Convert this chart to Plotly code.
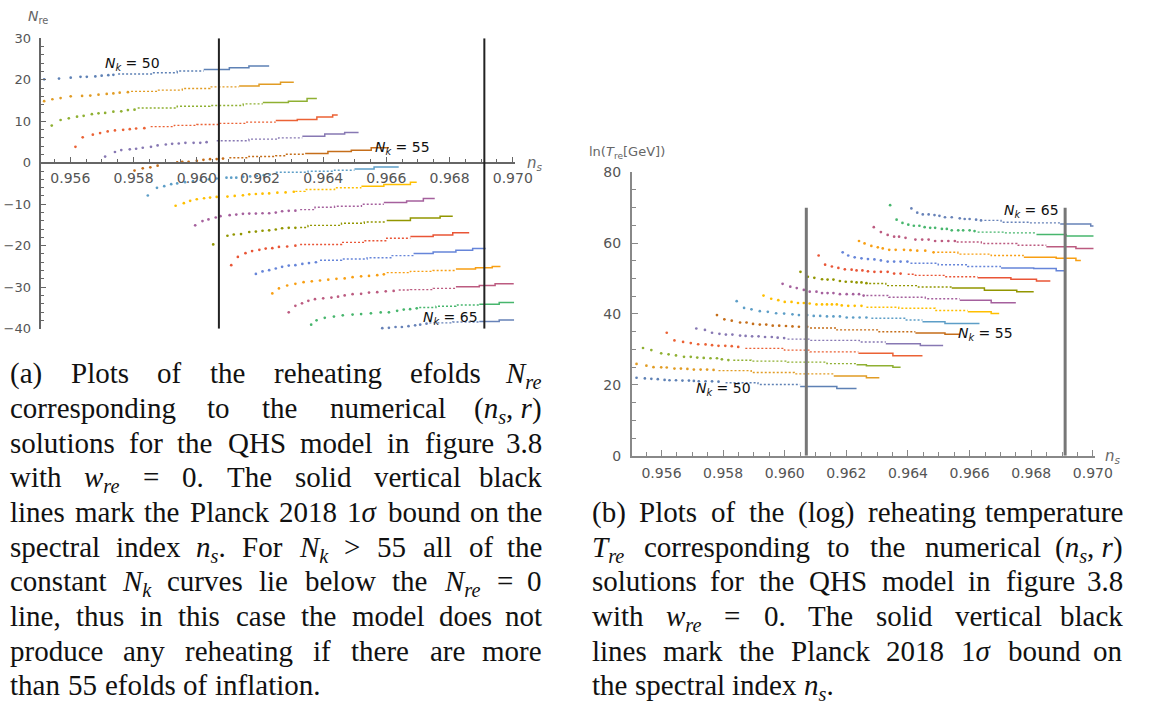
import plotly.graph_objects as go

W, H = 1154, 713

# ---------------------------------------------------------------- data
NK = [50, 51, 52, 53, 54, 55, 56, 57, 58, 59, 60, 61, 62, 63, 64, 65]
PLANCK_NS = [0.9607, 0.9691]

# (a) reheating efolds N_re: sparse solutions (dots) and dense solutions (plateaus)
A_DOT_NS = [
    [0.95517, 0.95564, 0.95601, 0.95632, 0.95652, 0.95679, 0.95699, 0.95720, 0.95736],
    [0.95517, 0.95543, 0.95569, 0.95601, 0.95637, 0.95663, 0.95689, 0.95715, 0.95736, 0.95756, 0.95782],
    [0.95541, 0.95569, 0.95595, 0.95621, 0.95642, 0.95668, 0.95689, 0.95710, 0.95736, 0.95761, 0.95782, 0.95803],
    [0.95616, 0.95639, 0.95671, 0.95694, 0.95718, 0.95741, 0.95767, 0.95788, 0.95808, 0.95834],
    [0.95710, 0.95741, 0.95761, 0.95788, 0.95808, 0.95829, 0.95855, 0.95876, 0.95902, 0.95922, 0.95943, 0.95964, 0.95990, 0.96011, 0.96031],
    [0.95803, 0.95829, 0.95853, 0.95876, 0.95938, 0.95954, 0.95974, 0.96000, 0.96021, 0.96042, 0.96063, 0.96083],
    [0.95845, 0.95874, 0.95897, 0.95919, 0.95938, 0.95963, 0.95988, 0.96013, 0.96038, 0.96063, 0.96094, 0.96109, 0.96125, 0.96147, 0.96169, 0.96190, 0.96212, 0.96231],
    [0.95933, 0.95959, 0.95979, 0.96000, 0.96023, 0.96042, 0.96063, 0.96097, 0.96120, 0.96146, 0.96166, 0.96187, 0.96208, 0.96229, 0.96255, 0.96281, 0.96307],
    [0.95995, 0.96018, 0.96037, 0.96060, 0.96075, 0.96104, 0.96125, 0.96146, 0.96166, 0.96187, 0.96208, 0.96229, 0.96250, 0.96270, 0.96291, 0.96312],
    [0.96052, 0.96097, 0.96117, 0.96140, 0.96166, 0.96187, 0.96208, 0.96229, 0.96250, 0.96270, 0.96291, 0.96312],
    [0.96109, 0.96130, 0.96154, 0.96175, 0.96198, 0.96218, 0.96239, 0.96260, 0.96286, 0.96312],
    [0.96187, 0.96208, 0.96229, 0.96250, 0.96270, 0.96291, 0.96312, 0.96334, 0.96355, 0.96377],
    [0.96239, 0.96260, 0.96286, 0.96312, 0.96338, 0.96364, 0.96390, 0.96416, 0.96442, 0.96468, 0.96493, 0.96520, 0.96545, 0.96571, 0.96592],
    [0.96291, 0.96312, 0.96333, 0.96353, 0.96374, 0.96400, 0.96426, 0.96447, 0.96468, 0.96493, 0.96520, 0.96545, 0.96571, 0.96598, 0.96623],
    [0.96362, 0.96379, 0.96405, 0.96434, 0.96462, 0.96493, 0.96520, 0.96551, 0.96582, 0.96608, 0.96634, 0.96655, 0.96675, 0.96696],
    [0.96551, 0.96566, 0.96587, 0.96608, 0.96629, 0.96649, 0.96670, 0.96691, 0.96707, 0.96727],
]
A_DOT_NRE = [
    [20.1, 20.3, 20.5, 20.7, 20.7, 20.8, 21.0, 21.1, 21.2],
    [14.85, 15.3, 15.6, 16.0, 16.1, 16.2, 16.4, 16.6, 16.7, 16.9, 17.0],
    [8.96, 10.3, 10.7, 11.1, 11.3, 11.7, 11.9, 12.0, 12.3, 12.4, 12.7, 12.8],
    [3.84, 6.13, 6.76, 7.14, 7.54, 7.78, 7.94, 8.08, 8.25, 8.32],
    [1.49, 2.59, 3.06, 3.22, 3.37, 3.61, 3.84, 4.17, 4.4, 4.55, 4.64, 4.79, 4.79, 4.79, 4.95],
    [-1.89, -1.34, -1.1, -0.7, 0.08, 0.24, 0.24, 0.47, 0.7, 0.86, 0.87, 1.0],
    [-7.9, -6.05, -5.66, -5.18, -5.0, -4.7, -4.4, -4.2, -4.0, -3.8, -3.6, -3.6, -3.6, -3.4, -3.3, -3.2, -3.0, -2.9],
    [-10.37, -9.74, -9.19, -8.8, -8.56, -8.4, -8.25, -8.17, -8.0, -7.86, -7.62, -7.54, -7.46, -7.39, -7.23, -7.15, -7.0],
    [-15.08, -14.07, -13.67, -13.2, -12.89, -12.65, -12.49, -12.33, -12.25, -12.25, -12.18, -12.18, -12.02, -11.7, -11.6, -11.55],
    [-19.7, -17.6, -17.3, -17.2, -16.7, -16.6, -16.4, -16.3, -16.1, -15.8, -15.7, -15.7],
    [-24.7, -22.7, -21.8, -21.3, -21.0, -20.7, -20.6, -20.3, -20.2, -20.0],
    [-26.8, -26.2, -25.9, -25.5, -25.1, -24.8, -24.7, -24.4, -24.2, -24.0],
    [-31.5, -30.3, -29.6, -29.2, -28.8, -28.6, -28.4, -28.2, -28.0, -27.9, -27.6, -27.4, -27.3, -27.1, -26.9],
    [-36.06, -34.5, -33.9, -33.3, -32.9, -32.7, -32.5, -32.3, -32.0, -31.7, -31.6, -31.3, -31.2, -31.0, -30.9],
    [-39.05, -38.0, -37.4, -37.1, -36.8, -36.6, -36.5, -36.3, -36.1, -36.06, -35.7, -35.4, -35.3, -35.1],
    [-40.3, -40.3, -39.9, -39.8, -39.6, -39.6, -39.4, -39.2, -39.05, -38.8],
]
# plateau edges (n+1 values) and plateau levels (n values)
A_STEP_NS = [
    [0.95751, 0.95860, 0.95938, 0.96022, 0.96103, 0.96165, 0.96229],
    [0.95792, 0.95876, 0.95954, 0.96041, 0.96134, 0.96197, 0.96265, 0.96307],
    [0.95813, 0.95938, 0.96041, 0.96147, 0.96209, 0.96290, 0.96349, 0.96380],
    [0.95854, 0.95929, 0.96000, 0.96072, 0.96156, 0.96250, 0.96318, 0.96380, 0.96430, 0.96446],
    [0.96063, 0.96165, 0.96259, 0.96334, 0.96405, 0.96468, 0.96512],
    [0.96103, 0.96165, 0.96250, 0.96281, 0.96343, 0.96415, 0.96489, 0.96552, 0.96608],
    [0.96250, 0.96352, 0.96436, 0.96499, 0.96561, 0.96639],
    [0.96312, 0.96343, 0.96436, 0.96521, 0.96592, 0.96676, 0.96696],
    [0.96327, 0.96374, 0.96436, 0.96521, 0.96592, 0.96664, 0.96717, 0.96753],
    [0.96327, 0.96352, 0.96458, 0.96530, 0.96601, 0.96676, 0.96770, 0.96810],
    [0.96327, 0.96458, 0.96530, 0.96601, 0.96676, 0.96748, 0.96810, 0.96862],
    [0.96390, 0.96458, 0.96539, 0.96614, 0.96686, 0.96748, 0.96820, 0.96873, 0.96914],
    [0.96601, 0.96676, 0.96748, 0.96820, 0.96882, 0.96935, 0.96961],
    [0.96639, 0.96676, 0.96748, 0.96820, 0.96894, 0.96944, 0.97003],
    [0.96704, 0.96757, 0.96820, 0.96894, 0.96957, 0.97004],
    [0.96736, 0.96810, 0.96894, 0.96957, 0.97004],
]
A_STEP_NRE = [
    [21.4, 21.7, 22.1, 22.5, 22.9, 23.3],
    [17.2, 17.5, 17.9, 18.3, 18.5, 18.9, 19.4],
    [13.2, 13.6, 13.8, 14.2, 14.5, 14.8, 15.5],
    [8.7, 9.0, 9.2, 9.5, 9.8, 10.2, 10.4, 11.0, 11.5],
    [5.3, 5.7, 6.0, 6.4, 6.9, 7.3],
    [1.2, 1.5, 1.7, 2.05, 2.2, 2.7, 3.0, 3.6],
    [-2.3, -2.05, -1.8, -1.5, -1.0],
    [-6.9, -6.45, -6.05, -5.65, -5.25, -4.7],
    [-11.3, -10.75, -10.5, -10.0, -9.6, -9.2, -8.6],
    [-15.6, -15.1, -14.6, -14.3, -13.9, -13.3, -12.9],
    [-19.7, -19.2, -18.8, -18.2, -17.8, -17.4, -16.9],
    [-23.5, -23.2, -22.9, -22.4, -21.9, -21.5, -21.1, -20.7],
    [-26.5, -26.2, -26.0, -25.6, -25.3, -25.0],
    [-30.7, -30.6, -30.3, -29.9, -29.6, -29.2],
    [-34.9, -34.6, -34.3, -34.1, -33.7],
    [-38.6, -38.4, -38.3, -37.9],
]

# (b) ln(T_re / GeV)
B_DOT_NS = [
    [0.95519, 0.95546, 0.95567, 0.95588, 0.95610, 0.95626, 0.95647, 0.95668, 0.95689, 0.95705, 0.95721, 0.95743, 0.95764, 0.95785],
    [0.95519, 0.95551, 0.95574, 0.95599, 0.95617, 0.95642, 0.95663, 0.95684, 0.95705, 0.95727, 0.95748, 0.95769],
    [0.95540, 0.95567, 0.95599, 0.95623, 0.95647, 0.95673, 0.95695, 0.95716, 0.95737, 0.95759, 0.95780, 0.95796, 0.95817],
    [0.95617, 0.95642, 0.95670, 0.95695, 0.95719, 0.95743, 0.95764, 0.95785, 0.95807, 0.95828, 0.95849],
    [0.95713, 0.95741, 0.95764, 0.95788, 0.95809, 0.95830, 0.95855, 0.95873, 0.95894, 0.95915, 0.95936, 0.95958, 0.95977, 0.95998],
    [0.95780, 0.95804, 0.95828, 0.95855, 0.95876, 0.95897, 0.95919, 0.95940, 0.95961, 0.95982, 0.96004, 0.96025, 0.96046, 0.96073],
    [0.95844, 0.95868, 0.95892, 0.95919, 0.95945, 0.95972, 0.95998, 0.96025, 0.96046, 0.96073, 0.96094, 0.96115, 0.96137, 0.96158, 0.96179, 0.96201, 0.96222, 0.96243, 0.96265],
    [0.95931, 0.95956, 0.95979, 0.96000, 0.96022, 0.96043, 0.96062, 0.96081, 0.96103, 0.96121, 0.96137, 0.96153, 0.96169, 0.96185, 0.96206, 0.96227, 0.96249],
    [0.95993, 0.96018, 0.96039, 0.96062, 0.96081, 0.96103, 0.96121, 0.96139, 0.96158, 0.96179, 0.96201, 0.96222, 0.96241, 0.96256],
    [0.96051, 0.96075, 0.96096, 0.96121, 0.96139, 0.96158, 0.96179, 0.96198, 0.96217, 0.96233, 0.96249, 0.96265],
    [0.96110, 0.96131, 0.96153, 0.96174, 0.96195, 0.96217, 0.96233, 0.96252, 0.96270, 0.96291, 0.96312, 0.96334, 0.96355, 0.96376],
    [0.96188, 0.96206, 0.96227, 0.96249, 0.96270, 0.96291, 0.96312, 0.96334, 0.96355, 0.96376, 0.96398],
    [0.96241, 0.96259, 0.96281, 0.96302, 0.96318, 0.96339, 0.96360, 0.96387, 0.96408, 0.96430, 0.96456, 0.96483],
    [0.96289, 0.96312, 0.96334, 0.96355, 0.96371, 0.96392, 0.96424, 0.96446, 0.96467, 0.96488, 0.96510, 0.96531, 0.96552],
    [0.96342, 0.96363, 0.96382, 0.96401, 0.96419, 0.96437, 0.96454, 0.96472, 0.96488, 0.96510, 0.96526, 0.96542, 0.96563, 0.96579, 0.96600, 0.96616],
    [0.96411, 0.96430, 0.96448, 0.96467, 0.96486, 0.96502, 0.96520, 0.96542, 0.96568, 0.96584, 0.96600, 0.96621, 0.96637],
]
B_DOT_TRE = [
    [22.0, 21.8, 21.7, 21.6, 21.4, 21.3, 21.3, 21.2, 21.2, 21.1, 21.0, 21.0, 21.0, 20.9],
    [25.9, 25.4, 25.0, 24.95, 24.9, 24.6, 24.6, 24.5, 24.3, 24.3, 24.3, 24.2],
    [30.4, 29.8, 28.9, 28.6, 28.3, 27.9, 27.9, 27.7, 27.6, 27.5, 27.5, 27.2, 27.0],
    [34.7, 32.55, 32.1, 31.8, 31.45, 31.4, 31.2, 31.0, 31.0, 30.9, 30.7],
    [35.9, 35.5, 34.7, 34.4, 34.2, 34.2, 33.9, 33.8, 33.7, 33.7, 33.5, 33.5, 33.3, 33.2],
    [39.7, 38.5, 38.1, 37.6, 37.6, 37.2, 37.0, 37.0, 36.7, 36.7, 36.6, 36.5, 36.4, 36.4],
    [43.6, 41.7, 41.3, 40.8, 40.6, 40.2, 40.1, 39.9, 39.7, 39.7, 39.45, 39.45, 39.3, 39.3, 39.3, 39.0, 39.0, 39.0, 39.0],
    [45.2, 44.3, 43.9, 43.4, 43.4, 43.1, 43.1, 42.95, 42.7, 42.7, 42.7, 42.7, 42.7, 42.4, 42.3, 42.3, 42.3],
    [48.5, 47.7, 47.3, 46.8, 46.3, 46.3, 45.9, 45.9, 45.9, 45.6, 45.6, 45.6, 45.6, 45.2],
    [51.9, 50.5, 50.2, 49.8, 49.7, 49.7, 49.3, 49.1, 49.1, 48.9, 48.9, 48.7],
    [56.5, 53.9, 53.4, 53.0, 52.6, 52.5, 52.3, 52.3, 52.05, 51.9, 51.9, 51.9, 51.4, 51.4],
    [57.4, 56.5, 56.0, 55.7, 55.5, 55.4, 55.1, 54.8, 54.8, 54.8, 54.8],
    [60.6, 59.9, 59.2, 58.8, 58.5, 58.1, 58.1, 58.1, 58.0, 57.85, 57.85, 57.4],
    [64.5, 63.1, 62.3, 61.8, 61.8, 61.5, 61.0, 61.0, 61.0, 60.6, 60.6, 60.6, 60.6],
    [70.7, 66.6, 65.7, 65.2, 64.9, 64.9, 64.5, 64.3, 64.3, 64.0, 64.0, 63.6, 63.6, 63.6, 63.6, 63.4],
    [69.8, 68.6, 68.1, 68.1, 67.9, 67.7, 67.3, 67.3, 67.0, 66.8, 66.8, 66.6, 66.4],
]
B_STEP_NS = [
    [0.95808, 0.95913, 0.96050, 0.96169, 0.96233],
    [0.95785, 0.95891, 0.96031, 0.96159, 0.96265, 0.96307],
    [0.95833, 0.95891, 0.96009, 0.96137, 0.96233, 0.96265, 0.96351, 0.96376],
    [0.95872, 0.95999, 0.96082, 0.96239, 0.96351, 0.96447],
    [0.96009, 0.96082, 0.96242, 0.96328, 0.96440, 0.96514],
    [0.96082, 0.96169, 0.96306, 0.96424, 0.96520, 0.96568],
    [0.96281, 0.96392, 0.96447, 0.96520, 0.96632],
    [0.96265, 0.96370, 0.96488, 0.96594, 0.96670, 0.96696],
    [0.96265, 0.96338, 0.96456, 0.96568, 0.96670, 0.96750],
    [0.96274, 0.96328, 0.96434, 0.96542, 0.96648, 0.96753, 0.96808],
    [0.96399, 0.96424, 0.96520, 0.96626, 0.96734, 0.96817, 0.96862],
    [0.96408, 0.96498, 0.96594, 0.96702, 0.96808, 0.96881, 0.96913],
    [0.96495, 0.96562, 0.96670, 0.96776, 0.96881, 0.96945, 0.96961],
    [0.96558, 0.96638, 0.96753, 0.96849, 0.96945, 0.97002],
    [0.96626, 0.96712, 0.96817, 0.96913, 0.97002],
    [0.96648, 0.96702, 0.96798, 0.96894, 0.96993, 0.97002],
]
B_STEP_TRE = [
    [20.6, 20.1, 19.5, 19.0],
    [24.0, 23.5, 23.1, 22.5, 22.0],
    [26.95, 26.7, 26.4, 26.0, 25.7, 25.4, 25.0],
    [30.3, 29.8, 29.3, 28.95, 28.2],
    [32.9, 32.55, 32.1, 31.6, 31.1],
    [36.05, 35.5, 35.0, 34.6, 34.3],
    [38.8, 38.3, 37.8, 37.3],
    [41.9, 41.6, 41.0, 40.6, 40.1],
    [45.2, 44.7, 44.3, 43.9, 43.2],
    [48.6, 48.0, 47.6, 47.3, 46.7, 46.3],
    [51.2, 50.9, 50.5, 50.2, 49.8, 49.3],
    [54.3, 53.9, 53.4, 53.0, 52.8, 52.2],
    [57.4, 56.9, 56.5, 56.0, 55.7, 55.1],
    [60.3, 59.9, 59.4, 59.0, 58.5],
    [63.1, 62.9, 62.4, 62.0],
    [66.4, 65.9, 65.7, 65.4, 64.8],
]

A_XTICKS = [0.956, 0.958, 0.960, 0.962, 0.964, 0.966, 0.968, 0.970]
A_XTICKTEXT = ["0.956", "0.958", "0.960", "0.962", "0.964", "0.966", "0.968", "0.970"]
A_YTICKS = [-40, -30, -20, -10, 0, 10, 20, 30]
A_YTICKTEXT = ["\u221240", "\u221230", "\u221220", "\u221210", "0", "10", "20", "30"]
B_YTICKS = [0, 20, 40, 60, 80]
B_YTICKTEXT = ["0", "20", "40", "60", "80"]

COLORS = ["#5E81B5", "#E19C24", "#8FB032", "#EB6235", "#8778B3", "#C56E1A",
          "#5D9EC7", "#FFBF00", "#A5609D", "#929600", "#E95536", "#6685D9",
          "#F89F13", "#BC5B80", "#47B66D", "#6782B8"]


def px(x):
    return x / W


def py(y):
    return 1 - y / H


fig = go.Figure()


def add_curve(dx, dy, sx, sy, color, xa, ya):
    # isolated solutions as dots
    fig.add_trace(go.Scatter(
        x=dx, y=dy, mode="markers", xaxis=xa, yaxis=ya,
        marker=dict(size=2.7, color=color, line=dict(width=0)),
        cliponaxis=False, showlegend=False, hoverinfo="skip"))
    # closely packed solutions as plateaus: leading ones dotted, trailing ones solid
    n = len(sy)
    k = n - n // 2
    fig.add_trace(go.Scatter(
        x=sx[:k + 1], y=sy[:k] + [sy[k - 1]], mode="lines", line_shape="hv",
        xaxis=xa, yaxis=ya, line=dict(color=color, width=1.4, dash="2px,2px"),
        cliponaxis=False, showlegend=False, hoverinfo="skip"))
    fig.add_trace(go.Scatter(
        x=sx[k:], y=sy[k:] + [sy[-1]], mode="lines", line_shape="hv",
        xaxis=xa, yaxis=ya, line=dict(color=color, width=1.5),
        cliponaxis=False, showlegend=False, hoverinfo="skip"))


for i in range(len(NK)):
    add_curve(A_DOT_NS[i], A_DOT_NRE[i], A_STEP_NS[i], A_STEP_NRE[i], COLORS[i], "x", "y")
    add_curve(B_DOT_NS[i], B_DOT_TRE[i], B_STEP_NS[i], B_STEP_TRE[i], COLORS[i], "x2", "y2")

# Planck 2018 1-sigma bounds on n_s
for ns in PLANCK_NS:
    fig.add_shape(type="line", xref="x", yref="y", x0=ns, x1=ns, y0=-40, y1=30,
                  line=dict(color="#222222", width=2), layer="above")
    fig.add_shape(type="line", xref="x2", yref="y2", x0=ns, x1=ns, y0=0, y1=70,
                  line=dict(color="#777777", width=3), layer="above")

# ---------------------------------------------------------------- axes
XFONT = dict(family="DejaVu Sans", size=14, color="#555555")
YFONT_A = dict(family="DejaVu Sans", size=13, color="#555555")
YFONT_B = dict(family="DejaVu Sans", size=14, color="#555555")
A_Y0, A_Y1 = py(328), py(31)
A_ZERO = A_Y0 + (0 - (-40)) / 70 * (A_Y1 - A_Y0)

axis_common = dict(showgrid=False, zeroline=False, showline=True, ticks="inside")

fig.update_layout(
    width=W, height=H, margin=dict(l=0, r=0, t=0, b=0),
    paper_bgcolor="white", plot_bgcolor="rgba(0,0,0,0)",
    xaxis=dict(domain=[px(42), px(523)], range=[0.955081, 0.970065], anchor="free",
               position=A_ZERO, tickmode="array", tickvals=A_XTICKS, ticktext=A_XTICKTEXT,
               linecolor="#666666", linewidth=1.5, tickcolor="#666666", ticklen=5,
               tickwidth=1.2, ticklabelstandoff=3, tickfont=XFONT,
               minor=dict(tick0=0.956, dtick=0.0005, ticks="inside", ticklen=3,
                          tickcolor="#666666", tickwidth=1),
               **axis_common),
    yaxis=dict(domain=[A_Y0, A_Y1], range=[-40, 30], anchor="x",
               tickmode="array", tickvals=A_YTICKS, ticktext=A_YTICKTEXT,
               linecolor="#666666", linewidth=1.5, tickcolor="#666666", ticklen=5,
               tickwidth=1.2, ticklabelstandoff=6, tickfont=YFONT_A,
               minor=dict(tick0=0, dtick=2, ticks="inside", ticklen=3,
                          tickcolor="#666666", tickwidth=1),
               **axis_common),
    xaxis2=dict(domain=[px(642), px(1112)], range=[0.955042, 0.970058], anchor="y2",
                tickmode="array", tickvals=A_XTICKS, ticktext=A_XTICKTEXT,
                linecolor="#888888", linewidth=2.2, tickcolor="#888888", ticklen=6,
                tickwidth=1.4, ticklabelstandoff=3, tickfont=XFONT,
                minor=dict(tick0=0.956, dtick=0.0005, ticks="inside", ticklen=3.5,
                           tickcolor="#888888", tickwidth=1.2),
                **axis_common),
    yaxis2=dict(domain=[py(458), py(168)], range=[0, 80], anchor="x2",
                tickmode="array", tickvals=B_YTICKS, ticktext=B_YTICKTEXT,
                linecolor="#888888", linewidth=2.2, tickcolor="#888888", ticklen=6,
                tickwidth=1.4, ticklabelstandoff=6, tickfont=YFONT_B,
                minor=dict(tick0=0, dtick=5, ticks="inside", ticklen=3.5,
                           tickcolor="#888888", tickwidth=1.2),
                **axis_common),
)

ann = []


def label(text, x, y, size=13, color="#666666", xanchor="left", yanchor="middle",
          family="DejaVu Sans"):
    ann.append(dict(text=text, x=px(x), y=py(y), xref="paper", yref="paper",
                    xanchor=xanchor, yanchor=yanchor, showarrow=False, borderpad=0,
                    font=dict(family=family, size=size, color=color)))


# axis titles
label("<i>N</i><sub>re</sub>", 27, 9, size=14)
label("<i>n</i><sub><i>s</i></sub>", 534, 159, size=15)
label("ln(<i>T</i><sub>re</sub>[GeV])", 597, 148, size=13)
label("<i>n</i><sub><i>s</i></sub>", 1122, 459, size=15)

# curve labels
NK_LABELS = [
    ("50", 135, 57), ("55", 409, 143), ("65", 458, 317),
    ("50", 735, 390), ("55", 1001, 333), ("65", 1048, 208),
]
for val, x, y in NK_LABELS:
    label(f"<i>N</i><sub><i>k</i></sub> = {val}", x, y, size=14, color="#111111",
          xanchor="center")

# ---------------------------------------------------------------- captions
REG = {c: w for c, w in zip(
    "abcdefghijklmnopqrstuvwxyz",
    [444, 500, 444, 500, 444, 333, 500, 500, 278, 278, 500, 278, 778, 500, 500, 500,
     500, 333, 389, 278, 500, 500, 722, 500, 500, 444])}
REG.update({c: w for c, w in zip(
    "ABCDEFGHIJKLMNOPQRSTUVWXYZ",
    [722, 667, 667, 722, 611, 556, 722, 722, 333, 389, 722, 611, 889, 722, 722, 556,
     722, 667, 556, 611, 722, 722, 944, 722, 722, 611])})
REG.update({d: 500 for d in "0123456789"})
REG.update({" ": 250, "(": 333, ")": 333, ".": 250, ",": 250, "=": 564, ">": 564})
ITA = dict(REG)
ITA.update({"N": 667, "T": 556, "n": 500, "s": 389, "r": 389, "e": 444, "k": 444,
            "w": 667, "\u03c3": 540})

CAP_SIZE = 29
CAP_FONT = dict(family="Liberation Serif", size=CAP_SIZE, color="#111111")


def run_width(style, text):
    table = REG if style == "r" else ITA
    w = sum(table.get(c, 500) for c in text) / 1000 * CAP_SIZE
    return w * 0.7 if style == "s" else w


def run_html(style, text):
    if style == "r":
        return text
    if style == "i":
        return f"<i>{text}</i>"
    return f"<sub><i>{text}</i></sub>"


def token(t):
    runs = [("r", t)] if isinstance(t, str) else t
    return "".join(run_html(s, x) for s, x in runs), sum(run_width(s, x) for s, x in runs)


NRE = [("i", "N"), ("s", "re")]
NKT = [("i", "N"), ("s", "k")]
WRE = [("i", "w"), ("s", "re")]
TRE = [("i", "T"), ("s", "re")]
NSR = [("r", "("), ("i", "n"), ("s", "s"), ("r", ", "), ("i", "r"), ("r", ")")]
NSD = [("i", "n"), ("s", "s"), ("r", ".")]
SIG = [("r", "1"), ("i", "\u03c3")]

CAPTION_A = [
    ["(a)", "Plots", "of", "the", "reheating", "efolds", NRE],
    ["corresponding", "to", "the", "numerical", NSR],
    ["solutions", "for", "the", "QHS", "model", "in", "figure", "3.8"],
    ["with", WRE, "=", "0.", "The", "solid", "vertical", "black"],
    ["lines", "mark", "the", "Planck", "2018", SIG, "bound", "on", "the"],
    ["spectral", "index", NSD, "For", NKT, ">", "55", "all", "of", "the"],
    ["constant", NKT, "curves", "lie", "below", "the", NRE, "=", "0"],
    ["line,", "thus", "in", "this", "case", "the", "model", "does", "not"],
    ["produce", "any", "reheating", "if", "there", "are", "more"],
    ["than", "55", "efolds", "of", "inflation."],
]
CAPTION_B = [
    ["(b)", "Plots", "of", "the", "(log)", "reheating", "temperature"],
    [TRE, "corresponding", "to", "the", "numerical", NSR],
    ["solutions", "for", "the", "QHS", "model", "in", "figure", "3.8"],
    ["with", WRE, "=", "0.", "The", "solid", "vertical", "black"],
    ["lines", "mark", "the", "Planck", "2018", SIG, "bound", "on"],
    ["the", "spectral", "index", NSD],
]

ASCENT = 0.891 * CAP_SIZE


def set_paragraph(lines, left, right, first_baseline, leading):
    """Justified paragraph: words spread to fill each line except the last."""
    for li, words in enumerate(lines):
        base = first_baseline + li * leading
        toks = [token(w) for w in words]
        last = li == len(lines) - 1
        total = sum(w for _, w in toks)
        gap = 0.3 * CAP_SIZE if last else (right - left - total) / (len(toks) - 1)
        x = left
        for ti, (html, w) in enumerate(toks):
            flush_right = (not last) and ti == len(toks) - 1
            ann.append(dict(text=html, x=px(right if flush_right else x),
                            y=py(base - ASCENT), xref="paper", yref="paper",
                            xanchor="right" if flush_right else "left",
                            yanchor="top", showarrow=False, borderpad=0,
                            font=CAP_FONT))
            x += w + gap


set_paragraph(CAPTION_A, 9, 552, 382, 35.5)
set_paragraph(CAPTION_B, 600, 1142, 524, 35.5)

fig.update_layout(annotations=ann)
fig.write_html("out.html")
